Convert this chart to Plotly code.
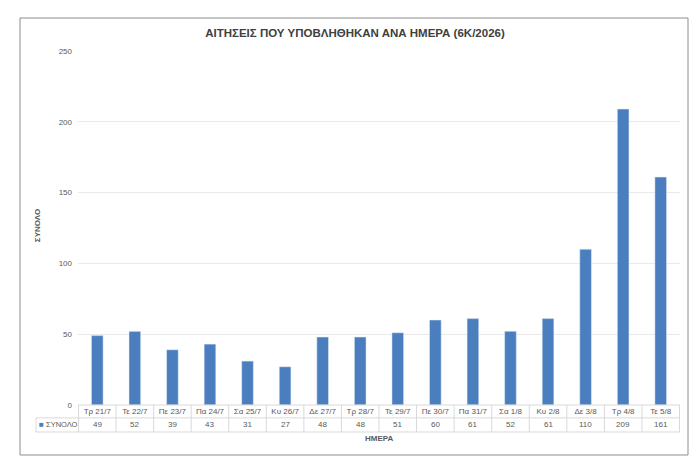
import plotly.graph_objects as go

# data
days = ["Τρ 21/7", "Τε 22/7", "Πε 23/7", "Πα 24/7", "Σα 25/7", "Κυ 26/7", "Δε 27/7", "Τρ 28/7",
        "Τε 29/7", "Πε 30/7", "Πα 31/7", "Σα 1/8", "Κυ 2/8", "Δε 3/8", "Τρ 4/8", "Τε 5/8"]
totals = [49, 52, 39, 43, 31, 27, 48, 48, 51, 60, 61, 52, 61, 110, 209, 161]
y_ticks = [0, 50, 100, 150, 200, 250]

series_name = "ΣΥΝΟΛΟ"
title = "ΑΙΤΗΣΕΙΣ ΠΟΥ ΥΠΟΒΛΗΘΗΚΑΝ ΑΝΑ ΗΜΕΡΑ (6K/2026)"

BAR = "#4a7ebf"
TXT = "#595959"
LINE = "#d9d9d9"
FONT = "Liberation Sans"

fig = go.Figure()
fig.add_trace(go.Bar(x=days, y=totals, name=series_name, marker_color=BAR))

# data table under the axis
row_mid = -0.0365
row_bot = -0.0763
left_cell = -0.0698

shapes = [
    # outer frame
    dict(type="rect", xref="paper", yref="paper", x0=-0.0963, x1=1.0133, y0=-0.1412, y1=1.0932,
         line=dict(color="#8c8c8c", width=1), layer="below"),
    dict(type="line", xref="paper", yref="paper", x0=0, x1=1, y0=0, y1=0, line=dict(color=LINE, width=1)),
    dict(type="line", xref="paper", yref="paper", x0=left_cell, x1=1, y0=row_mid, y1=row_mid,
         line=dict(color=LINE, width=1)),
    dict(type="line", xref="paper", yref="paper", x0=left_cell, x1=1, y0=row_bot, y1=row_bot,
         line=dict(color=LINE, width=1)),
    dict(type="line", xref="paper", yref="paper", x0=left_cell, x1=left_cell, y0=row_mid, y1=row_bot,
         line=dict(color=LINE, width=1)),
]
for i in range(len(days) + 1):
    shapes.append(dict(type="line", xref="x", yref="paper", x0=i - 0.5, x1=i - 0.5, y0=0, y1=row_bot,
                       line=dict(color=LINE, width=1)))

row_y = (row_mid + row_bot) / 2
annotations = [
    dict(text="■", xref="paper", yref="paper", x=left_cell + 0.002, y=row_y, xanchor="left",
         yanchor="middle", showarrow=False, font=dict(family=FONT, size=8, color=BAR)),
    dict(text=series_name, xref="paper", yref="paper", x=left_cell + 0.0125, y=row_y, xanchor="left",
         yanchor="middle", showarrow=False, font=dict(family=FONT, size=7.5, color=TXT)),
    dict(text="<b>ΗΜΕΡΑ</b>", xref="paper", yref="paper", x=0.5, y=-0.096, xanchor="center",
         yanchor="middle", showarrow=False, font=dict(family=FONT, size=8, color=TXT)),
    dict(text="<b>ΣΥΝΟΛΟ</b>", xref="paper", yref="paper", x=-0.066, y=0.506, xanchor="center",
         yanchor="middle", showarrow=False, textangle=-90, font=dict(family=FONT, size=8, color=TXT)),
]
for d, v in zip(days, totals):
    annotations.append(dict(text=str(v), xref="x", yref="paper", x=d, y=row_y, xanchor="center",
                            yanchor="middle", showarrow=False, font=dict(family=FONT, size=8, color=TXT)))

fig.update_layout(
    width=700, height=469,
    margin=dict(l=70, r=28, t=43, b=72),
    paper_bgcolor="white", plot_bgcolor="white",
    showlegend=False,
    bargap=0.69,
    title=dict(text=f"<b>{title}</b>", x=347 / 700, xanchor="center", y=1 - 25 / 469, yanchor="middle",
               font=dict(family="Liberation Sans Narrow, " + FONT, size=11.5, color="#404040")),
    font=dict(family=FONT, size=8, color=TXT),
    xaxis=dict(showgrid=False, showline=False, ticks="", tickfont=dict(size=8, color=TXT),
               fixedrange=True),
    yaxis=dict(range=[0, 250], tickvals=y_ticks, showgrid=True, gridcolor="#e9e9e9", gridwidth=1,
               zeroline=False, showline=False, ticks="", ticklabelstandoff=5,
               tickfont=dict(size=8, color=TXT)),
    shapes=shapes,
    annotations=annotations,
)

fig.write_html("out.html")
